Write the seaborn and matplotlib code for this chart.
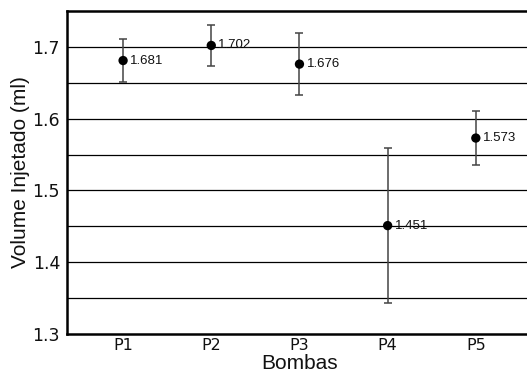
import numpy as np
import matplotlib
matplotlib.use("Agg")
import matplotlib.pyplot as plt
import seaborn as sns
import pandas as pd

# dados
bombas = ["P1", "P2", "P3", "P4", "P5"]
volume = [1.681, 1.702, 1.676, 1.451, 1.573]
erro = [0.030, 0.028, 0.043, 0.108, 0.037]

df = pd.DataFrame({"pos": np.arange(1, len(bombas) + 1), "volume": volume, "erro": erro})

sns.set_style("white")
plt.rcParams["font.family"] = ["DejaVu Sans"]
plt.rcParams["text.color"] = "#111111"
plt.rcParams["axes.labelcolor"] = "#111111"
plt.rcParams["xtick.color"] = "#111111"
plt.rcParams["ytick.color"] = "#111111"

fig = plt.figure(figsize=(5.27, 3.76), dpi=100)
ax = fig.add_axes([67 / 527, 1 - 334 / 376, 1 - 67 / 527 + 0.01, (334 - 11) / 376])

# linhas de grade a cada 0.05
for yv in np.arange(1.35, 1.75, 0.05):
    ax.axhline(yv, color="black", lw=0.9, zorder=0)

ax.errorbar(df["pos"], df["volume"], yerr=df["erro"], fmt="none",
            ecolor="#444444", elinewidth=1.1, capsize=3, capthick=1.1, zorder=2)
sns.scatterplot(data=df, x="pos", y="volume", color="black", s=45,
                edgecolor="none", ax=ax, zorder=3)

for x, y in zip(df["pos"], df["volume"]):
    ax.text(x + 0.08, y, f"{y:.3f}", va="center", ha="left", fontsize=9.5,
            family="Liberation Sans", color="#111111", zorder=4)

ax.set_xlim(0.364, 5.64)
ax.set_ylim(1.3, 1.75)
ax.set_xticks(df["pos"])
ax.set_xticklabels(bombas)
ax.set_yticks([1.3, 1.4, 1.5, 1.6, 1.7])
ax.set_yticklabels(["1.3", "1.4", "1.5", "1.6", "1.7"])
ax.tick_params(axis="y", length=0, labelsize=12.5, pad=5)
ax.tick_params(axis="x", length=0, labelsize=11.5, pad=3)

ax.set_xlabel("Bombas", fontsize=15, family="Liberation Sans", va="bottom")
ax.xaxis.set_label_coords(0.5, -0.121)
ax.set_ylabel("Volume Injetado (ml)", fontsize=15, family="Liberation Sans", labelpad=2)

for side in ["left", "bottom", "top"]:
    ax.spines[side].set_color("black")
    ax.spines[side].set_linewidth(1.8)
ax.spines["right"].set_visible(False)

fig.savefig("out.png", dpi=100)
